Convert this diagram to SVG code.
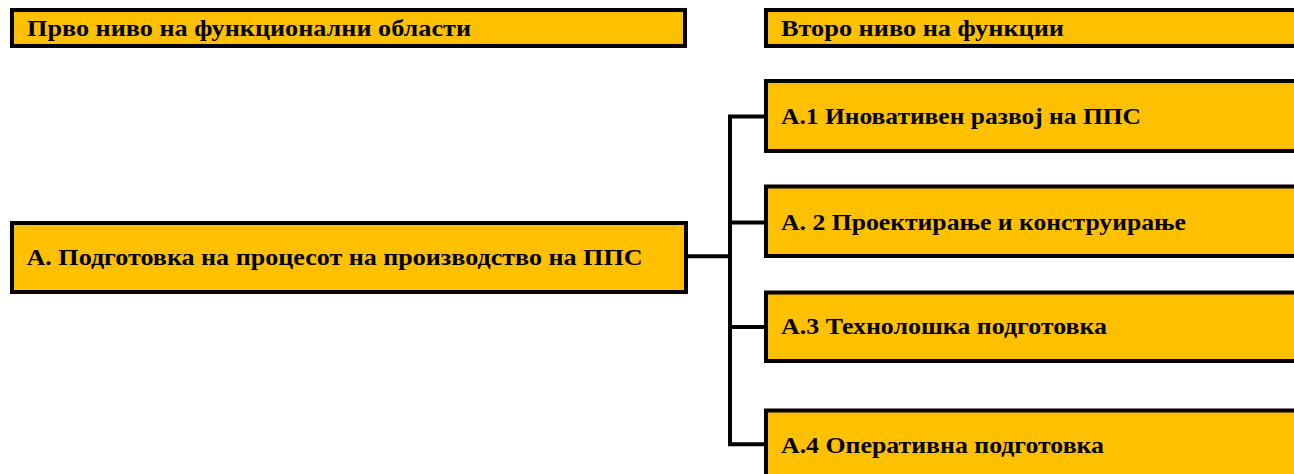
<svg xmlns="http://www.w3.org/2000/svg" width="1294" height="474" viewBox="0 0 1294 474">
<style>
.box{fill:#FFC000;stroke:#000;stroke-width:4}
.t{font-family:"Liberation Serif","Times New Roman",serif;font-weight:bold;font-size:24px;fill:#000}
.c{fill:none;stroke:#000;stroke-width:4}
</style>
<rect width="1294" height="474" fill="#fff"/>
<g id="hdr1"><rect class="box" x="12" y="10" width="673" height="36"/><text class="t" x="27" y="36" textLength="444" lengthAdjust="spacingAndGlyphs">Прво ниво на функционални области</text></g>
<g id="hdr2"><rect class="box" x="766" y="10" width="540" height="36"/><text class="t" x="781" y="36" textLength="283" lengthAdjust="spacingAndGlyphs">Второ ниво на функции</text></g>
<g id="nodeA"><rect class="box" x="12" y="223" width="674" height="69"/><text class="t" x="26.5" y="265" textLength="616" lengthAdjust="spacingAndGlyphs">А. Подготовка на процесот на производство на ППС</text></g>
<g id="nodeA1"><rect class="box" x="766" y="81" width="540" height="70"/><text class="t" x="781" y="123.5" textLength="360" lengthAdjust="spacingAndGlyphs">А.1 Иновативен развој на ППС</text></g>
<g id="nodeA2"><rect class="box" x="766" y="186.5" width="540" height="69.5"/><text class="t" x="781" y="229.5" textLength="405" lengthAdjust="spacingAndGlyphs">А. 2 Проектирање и конструирање</text></g>
<g id="nodeA3"><rect class="box" x="766" y="292.5" width="540" height="68.5"/><text class="t" x="781" y="334" textLength="326" lengthAdjust="spacingAndGlyphs">А.3 Технолошка подготовка</text></g>
<g id="nodeA4"><rect class="box" x="766" y="410.5" width="540" height="80"/><text class="t" x="781" y="453" textLength="323" lengthAdjust="spacingAndGlyphs">А.4 Оперативна подготовка</text></g>
<g id="connectors">
<path class="c" d="M688 256.3H730"/>
<path class="c" d="M764 116.5H730V444.3H764"/>
<path class="c" d="M730 222.5H764"/>
<path class="c" d="M730 327H764"/>
</g>
</svg>
